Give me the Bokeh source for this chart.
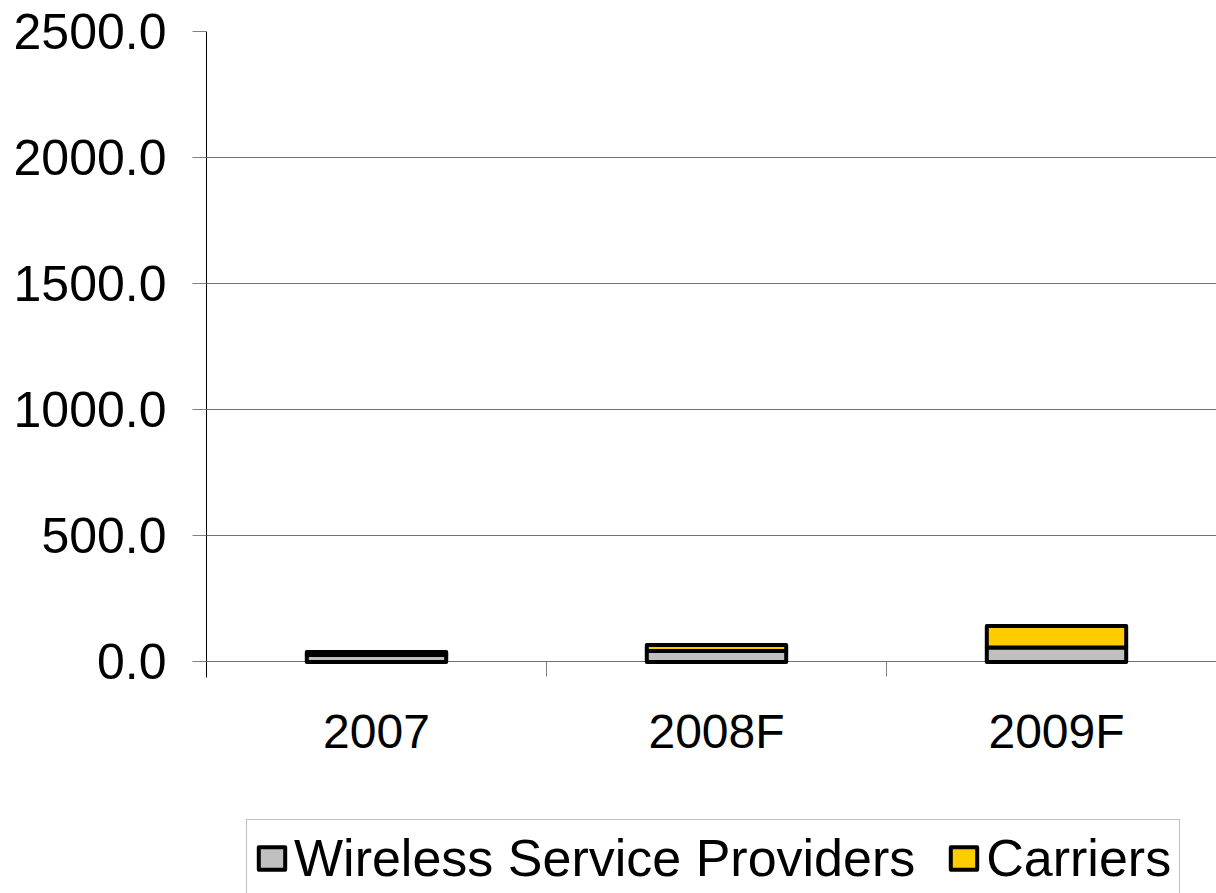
from bokeh.plotting import figure
from bokeh.models import Range1d, FixedTicker, Legend, LegendItem, ColumnDataSource
from bokeh.embed import file_html
from bokeh.resources import INLINE

years = ["2007", "2008F", "2009F"]
wireless = [28, 44, 57]
carriers = [12, 23, 86]
y_ticks = [0, 500, 1000, 1500, 2000, 2500]

xpos = [i + 0.5 for i in range(len(years))]
src = ColumnDataSource(dict(x=xpos, wireless=wireless, carriers=carriers))

FONT = "Liberation Sans"

p = figure(width=1216, height=893, output_backend="svg", toolbar_location=None,
           x_range=Range1d(0, 1010 / 340), y_range=Range1d(-918, 2500),
           min_border_left=206, min_border_right=0, min_border_top=31, min_border_bottom=0)
p.outline_line_color = None
p.background_fill_color = "white"

rs = p.vbar_stack(["wireless", "carriers"], x="x", width=0.41, source=src,
                  fill_color=["#C0C0C0", "#FFCC00"], line_color="black", line_width=4,
                  line_join="round")

# y axis
ya = p.yaxis[0]
ya.ticker = FixedTicker(ticks=y_ticks)
ya.bounds = (-60, 2500)
ya.major_label_overrides = {t: f"{t:.1f}" for t in y_ticks}
ya.major_label_text_font = FONT
ya.major_label_text_font_size = "50px"
ya.major_label_text_color = "black"
ya.major_label_standoff = 26
ya.major_tick_out = 14
ya.major_tick_in = 0
ya.major_tick_line_color = "#808080"
ya.minor_tick_line_color = None
ya.axis_line_color = "black"
ya.axis_line_width = 1

# x axis drawn at y = 0
xa = p.xaxis[0]
xa.fixed_location = 0
xa.ticker = FixedTicker(ticks=xpos, minor_ticks=[1, 2])
xa.major_label_overrides = {x: y for x, y in zip(xpos, years)}
xa.major_label_text_font = FONT
xa.major_label_text_font_size = "48px"
xa.major_label_text_color = "black"
xa.major_label_standoff = 28
xa.major_tick_out = 0
xa.major_tick_in = 0
xa.minor_tick_out = 15
xa.minor_tick_in = 0
xa.minor_tick_line_color = "#808080"
xa.axis_line_color = None

p.xgrid.grid_line_color = None
p.ygrid.ticker = FixedTicker(ticks=y_ticks)
p.ygrid.grid_line_color = "#707070"
p.ygrid.grid_line_width = 1

legend = Legend(items=[LegendItem(label="Wireless Service Providers", renderers=[rs[0]]),
                       LegendItem(label="Carriers", renderers=[rs[1]])],
                orientation="horizontal", location=(40, -4),
                label_text_font=FONT, label_text_font_size="52px", label_text_color="black",
                glyph_width=33, glyph_height=28, label_standoff=6, spacing=32,
                padding=8, margin=0,
                border_line_color="#808080", border_line_width=1,
                background_fill_color="white", background_fill_alpha=1)
p.add_layout(legend, "center")

open("out.html", "w").write(file_html(p, INLINE))
